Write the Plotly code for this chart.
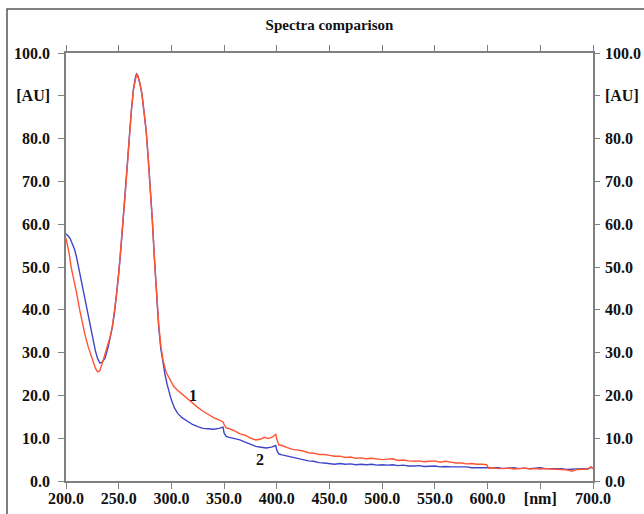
import plotly.graph_objects as go

# Wavelength (nm) and absorbance (AU) for spectrum 1
wl_1 = [200, 203, 205, 208, 210, 213, 215, 218, 221, 224, 226, 228, 230, 232, 235, 238, 240,
        242, 244, 246, 248, 250, 252, 254, 256, 258, 260, 262, 264, 266, 267, 268, 270,
        272, 274, 276, 278, 280, 282, 284, 286, 288, 290, 292, 295, 298, 302, 305, 310,
        315, 320, 325, 330, 335, 340, 345, 349, 350, 352, 355, 360, 365, 370, 375, 380,
        385, 388, 392, 396, 399, 400, 402, 405, 410, 415, 420, 425, 430, 435, 440, 445,
        450, 455, 460, 465, 470, 475, 480, 485, 490, 495, 500, 505, 510, 515, 520, 525,
        530, 535, 540, 545, 550, 555, 560, 565, 570, 575, 580, 585, 590, 595, 599, 601,
        605, 610, 615, 620, 625, 630, 635, 640, 645, 650, 655, 660, 665, 670, 675, 680,
        685, 690, 695, 698, 700]
au_1 = [56.7, 53.2, 49.8, 46.6, 44.0, 40.0, 37.6, 34.2, 31.4, 29.0, 27.6, 26.3, 25.5, 25.7, 28.0, 30.6, 32.2,
        33.8, 36.2, 39.5, 43.5, 48.5, 54.0, 60.0, 66.5, 73.0, 80.0, 86.5, 91.5, 94.5, 95.1, 94.8, 93.0,
        90.5, 86.5, 82.0, 75.5, 68.5, 60.5, 51.5, 43.0, 36.5, 31.5, 28.3, 25.4, 23.9, 22.2, 21.4, 20.3,
        19.2, 18.3, 17.2, 16.3, 15.5, 14.8, 14.3, 13.8, 13.2, 12.4, 12.2, 11.7, 11.0, 10.7, 10.0, 9.6,
        9.8, 10.2, 9.9, 10.3, 10.9, 9.8, 8.4, 8.3, 7.8, 7.4, 7.2, 7.0, 6.6, 6.5, 6.2, 6.2,
        6.0, 5.8, 5.8, 5.5, 5.6, 5.3, 5.4, 5.2, 5.3, 5.1, 5.0, 5.1, 5.2, 4.8, 4.9, 4.7,
        4.6, 4.7, 4.5, 4.6, 4.7, 4.4, 4.6, 4.4, 4.2, 4.2, 4.0, 4.1, 3.9, 3.9, 3.8, 3.0,
        3.1, 2.9, 3.0, 3.0, 2.8, 2.9, 3.0, 2.8, 2.9, 2.8, 2.9, 2.8, 2.8, 2.7, 2.6, 2.3,
        2.7, 2.8, 2.8, 3.3, 3.0]

# Wavelength (nm) and absorbance (AU) for spectrum 2
wl_2 = [200, 202, 204, 206, 208, 210, 213, 215, 218, 220, 223, 225, 228, 230, 232, 234, 237, 240,
        242, 244, 246, 248, 250, 252, 254, 256, 258, 260, 262, 264, 266, 267, 268, 270,
        272, 274, 276, 278, 280, 282, 284, 286, 288, 290, 292, 294, 296, 298, 300, 303,
        306, 310, 315, 320, 325, 330, 335, 340, 345, 349, 350, 352, 355, 360, 365, 370,
        375, 380, 385, 390, 395, 399, 400, 402, 405, 410, 415, 420, 425, 430, 435, 440,
        445, 450, 455, 460, 465, 470, 475, 480, 485, 490, 495, 500, 505, 510, 515, 520,
        525, 530, 535, 540, 545, 550, 555, 560, 565, 570, 575, 580, 585, 590, 595, 600,
        605, 610, 615, 620, 625, 630, 635, 640, 645, 650, 655, 660, 665, 670, 675, 680,
        685, 690, 695, 698, 700]
au_2 = [57.7, 57.3, 56.6, 55.6, 54.2, 52.3, 48.6, 46.0, 42.3, 39.8, 36.0, 33.6, 30.3, 28.6, 27.6, 27.7, 28.7, 31.3,
        33.5, 36.0, 39.3, 43.5, 48.5, 54.0, 60.0, 66.5, 73.0, 80.0, 86.5, 91.5, 94.5, 95.1, 94.8, 93.0,
        90.5, 86.5, 82.0, 75.5, 68.5, 60.5, 51.5, 43.0, 35.8, 30.8, 27.3, 24.8, 22.5, 20.3, 18.9, 17.0,
        15.8, 14.8, 13.9, 13.2, 12.7, 12.3, 12.2, 12.1, 12.3, 12.6, 11.2, 10.4, 10.2, 9.9, 9.6, 9.1,
        8.6, 8.1, 7.9, 7.7, 7.9, 8.3, 7.2, 6.3, 6.1, 5.8, 5.5, 5.3, 5.0, 4.7, 4.6, 4.3,
        4.2, 4.1, 3.9, 4.1, 3.9, 4.0, 3.8, 3.9, 3.8, 3.9, 3.7, 3.8, 3.7, 3.8, 3.6, 3.7,
        3.5, 3.5, 3.6, 3.4, 3.5, 3.5, 3.3, 3.4, 3.3, 3.3, 3.2, 3.3, 3.1, 3.1, 3.1, 3.0,
        3.0, 3.1, 2.9, 3.0, 3.1, 2.9, 3.0, 2.9, 3.0, 3.1, 2.9, 2.9, 2.8, 2.9, 2.7, 2.8,
        2.8, 2.9, 2.8, 3.2, 3.0]

# Axis ticks and their labels (unit labels replace one tick each)
x_ticks = [200, 250, 300, 350, 400, 450, 500, 550, 600, 650, 700]
x_labels = ["200.0", "250.0", "300.0", "350.0", "400.0", "450.0", "500.0", "550.0", "600.0", "[nm]", "700.0"]
y_ticks = [0, 10, 20, 30, 40, 50, 60, 70, 80, 90, 100]
y_labels = ["0.0", "10.0", "20.0", "30.0", "40.0", "50.0", "60.0", "70.0", "80.0", "[AU]", "100.0"]

# Curve labels
curve_names = ["1", "2"]
label_pos = [(320.5, 19.9), (384.0, 5.1)]

ORANGE = "#FF5533"
BLUE = "#3F45C8"
AXIS = "#808080"
FONT = "Liberation Serif"

fig = go.Figure()
fig.add_trace(go.Scatter(x=wl_2, y=au_2, mode="lines", line=dict(color=BLUE, width=1.4),
                         name=curve_names[1], showlegend=False))
fig.add_trace(go.Scatter(x=wl_1, y=au_1, mode="lines", line=dict(color=ORANGE, width=1.4),
                         name=curve_names[0], showlegend=False))
# invisible trace to carry the right-hand axis
fig.add_trace(go.Scatter(x=[200], y=[0], yaxis="y2", mode="markers",
                         marker=dict(opacity=0), showlegend=False, hoverinfo="skip"))

tickfont = dict(family=FONT, size=16, color="#111111", weight="bold")

fig.update_layout(
    width=644, height=514,
    margin=dict(l=66, r=51, t=53, b=33),
    paper_bgcolor="white", plot_bgcolor="white",
    title=dict(text="<b>Spectra comparison</b>", x=0.5, xref="paper", xanchor="center",
               y=1 - 25 / 514, yref="container", yanchor="middle",
               font=dict(family=FONT, size=15, color="#111111")),
    xaxis=dict(range=[200, 700], tickvals=x_ticks, ticktext=x_labels, tickfont=tickfont,
               showgrid=False, zeroline=False, showline=True, linecolor=AXIS, linewidth=1.5,
               mirror="ticks", ticks="outside", ticklen=6, tickcolor=AXIS, tickwidth=1,
               ticklabelstandoff=-4, automargin=False),
    yaxis=dict(range=[0, 100], tickvals=y_ticks, ticktext=y_labels, tickfont=tickfont,
               showgrid=False, zeroline=False, showline=True, linecolor=AXIS, linewidth=1.5,
               ticks="outside", ticklen=6, tickcolor=AXIS, tickwidth=1, ticklabelstandoff=5,
               automargin=False),
    yaxis2=dict(range=[0, 100], tickvals=y_ticks, ticktext=y_labels, tickfont=tickfont,
                overlaying="y", side="right", showgrid=False, zeroline=False, showline=True,
                linecolor=AXIS, linewidth=1.5, ticks="outside", ticklen=5, tickcolor=AXIS,
                tickwidth=1, ticklabelstandoff=2, automargin=False),
)

for name, (lx, ly) in zip(curve_names, label_pos):
    fig.add_annotation(x=lx, y=ly, text=f"<b>{name}</b>", showarrow=False,
                       font=dict(family=FONT, size=16, color="#111111"))

# outer frame around the chart
fig.add_shape(type="rect", xref="paper", yref="paper",
              x0=(7 - 66) / 527, x1=(660 - 66) / 527,
              y0=(481 - 530) / 428, y1=(481 - 9) / 428,
              line=dict(color="#555555", width=1.5), fillcolor="rgba(0,0,0,0)", layer="below")

fig.write_html("out.html")
